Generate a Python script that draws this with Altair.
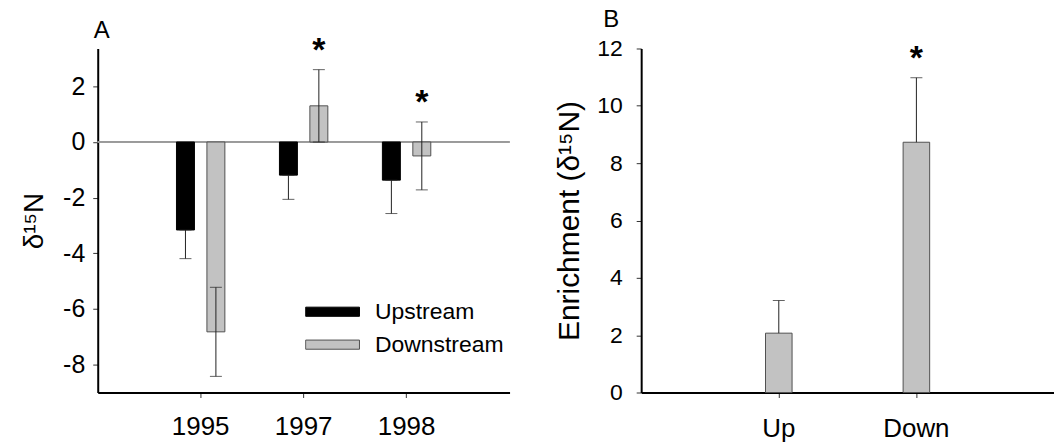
import altair as alt
import pandas as pd

FONT = "Liberation Sans"

# ---- Panel A data ----
years = ["1995", "1997", "1998"]
series = ["Upstream", "Downstream"]
up_mean = [-3.16, -1.19, -1.37]
up_err = [1.03, 0.87, 1.20]
down_mean = [-6.82, 1.30, -0.50]
down_err = [1.60, 1.30, 1.22]
down_sig = [False, True, True]

# ---- Panel B data ----
b_sites = ["Up", "Down"]
b_mean = [2.07, 8.73]
b_err = [1.14, 2.25]
b_sig = [False, True]

panel_labels = ["A", "B"]

rows = []
for i, yr in enumerate(years):
    rows.append(dict(year=yr, series="Upstream", mean=up_mean[i],
                     lo=up_mean[i] - up_err[i], hi=up_mean[i], sig=False))
    rows.append(dict(year=yr, series="Downstream", mean=down_mean[i],
                     lo=down_mean[i] - down_err[i], hi=down_mean[i] + down_err[i],
                     sig=down_sig[i]))
df_a = pd.DataFrame(rows)

df_b = pd.DataFrame(dict(site=b_sites, mean=b_mean,
                         hi=[m + e for m, e in zip(b_mean, b_err)], sig=b_sig))

GRAY = "#c2c2c2"
EDGE = "#505050"
HYPHEN = "replace(datum.label, '\u2212', '-')"

x_a = alt.X("year:N", sort=years,
            scale=alt.Scale(paddingInner=0.53, paddingOuter=0.765),
            axis=alt.Axis(title=None, labelAngle=0, labelFontSize=26, labelPadding=16))
xo_a = alt.XOffset("series:N", sort=series,
                   scale=alt.Scale(paddingInner=0.41, paddingOuter=0))
y_scale_a = alt.Scale(domain=[-9, 3.36], nice=False, zero=False)
y_axis_a = alt.Axis(values=[-8, -6, -4, -2, 0, 2], title="δ¹⁵N", titleFontSize=28,
                    titleFontWeight="normal", labelFontSize=25, labelPadding=8,
                    titlePadding=14, labelExpr=HYPHEN)

legend_kw = dict(title=None, orient="none", legendX=208, legendY=254,
                 labelFontSize=23, labelOffset=15, labelFont=FONT,
                 symbolType="M-1,-0.17H1V0.17H-1Z", symbolSize=2916,
                 symbolStrokeWidth=1, clipHeight=20, rowPadding=10, labelColor="#000")

base_a = alt.Chart(df_a)

zero_a = base_a.mark_rule(color="#9a9a9a", strokeWidth=1).encode(y=alt.datum(0))

bars_a = base_a.mark_bar(strokeWidth=1).encode(
    x=x_a, xOffset=xo_a,
    y=alt.Y("mean:Q", scale=y_scale_a, axis=y_axis_a),
    fill=alt.Fill("series:N", sort=series,
                  scale=alt.Scale(domain=series, range=["#000000", GRAY]),
                  legend=alt.Legend(**legend_kw)),
    stroke=alt.Stroke("series:N", sort=series,
                      scale=alt.Scale(domain=series, range=["#000000", EDGE]),
                      legend=alt.Legend(**legend_kw)),
)

err_a = base_a.mark_rule(color="#222", strokeWidth=1).encode(
    x=x_a, xOffset=xo_a, y=alt.Y("lo:Q"), y2="hi:Q")
cap_lo_a = base_a.mark_tick(color="#222", thickness=1, size=12, orient="horizontal").encode(
    x=x_a, xOffset=xo_a, y="lo:Q")
cap_hi_a = base_a.mark_tick(color="#222", thickness=1, size=12, orient="horizontal").encode(
    x=x_a, xOffset=xo_a, y="hi:Q")
star_a = base_a.transform_filter("datum.sig").mark_text(
    text="*", fontSize=34, fontWeight="bold", font=FONT, dy=-9, baseline="alphabetic",
    color="#000").encode(x=x_a, xOffset=xo_a, y="hi:Q")

lab_a = alt.Chart(pd.DataFrame({"t": [panel_labels[0]]})).mark_text(
    font=FONT, fontSize=24, align="left", baseline="alphabetic", color="#000"
).encode(text="t:N", x=alt.value(-4), y=alt.value(-11))

panel_a = alt.layer(zero_a, bars_a, err_a, cap_lo_a, cap_hi_a, star_a, lab_a).properties(
    width=413, height=345)

# ---- Panel B ----
x_b = alt.X("site:N", sort=b_sites,
            scale=alt.Scale(paddingInner=0.807, paddingOuter=0.9035),
            axis=alt.Axis(title=None, labelAngle=0, labelFontSize=26, labelPadding=18))
y_b = alt.Y("mean:Q", scale=alt.Scale(domain=[0, 12], nice=False),
            axis=alt.Axis(values=[0, 2, 4, 6, 8, 10, 12], title="Enrichment (δ¹⁵N)",
                          titleFontSize=30, titleFontWeight="normal", labelFontSize=23,
                          labelPadding=14, titlePadding=12))
base_b = alt.Chart(df_b)
bars_b = base_b.mark_bar(fill=GRAY, stroke=EDGE, strokeWidth=1).encode(x=x_b, y=y_b)
err_b = base_b.mark_rule(color="#222", strokeWidth=1).encode(x=x_b, y="mean:Q", y2="hi:Q")
cap_b = base_b.mark_tick(color="#222", thickness=1, size=12, orient="horizontal").encode(
    x=x_b, y="hi:Q")
star_b = base_b.transform_filter("datum.sig").mark_text(
    text="*", fontSize=34, fontWeight="bold", font=FONT, dy=-9, baseline="alphabetic",
    color="#000").encode(x=x_b, y="hi:Q")
lab_b = alt.Chart(pd.DataFrame({"t": [panel_labels[1]]})).mark_text(
    font=FONT, fontSize=24, align="left", baseline="alphabetic", color="#000"
).encode(text="t:N", x=alt.value(-38), y=alt.value(-22))

panel_b = alt.layer(bars_b, err_b, cap_b, star_b, lab_b).properties(width=414, height=345)

chart = alt.hconcat(panel_a, panel_b, spacing=44).resolve_scale(
    fill="independent", stroke="independent"
).properties(
    padding={"left": 20, "top": 7, "right": 0, "bottom": 0}
).configure_view(stroke=None).configure_axis(
    labelFont=FONT, titleFont=FONT, labelColor="#000", titleColor="#000",
    domainColor="#000", domainWidth=2, tickColor="#333", tickWidth=1, tickSize=5,
    grid=False
)

chart.save("out.html", embed_options={"renderer": "svg", "actions": False})
